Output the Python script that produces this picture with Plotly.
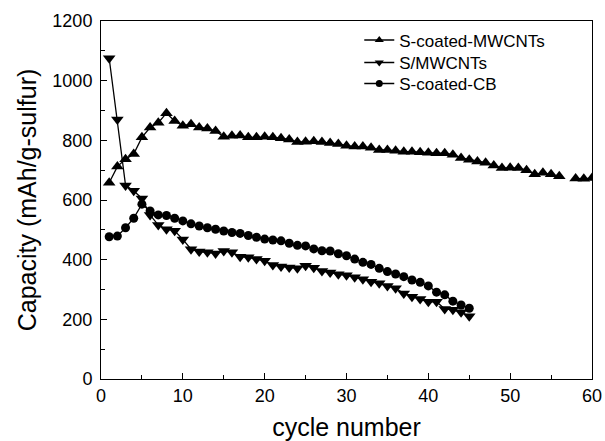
import plotly.graph_objects as go

cycles_a = list(range(1, 61))
s_coated_mwcnts = [658, 712, 737, 754, 810, 843, 859, 891, 865, 849,
                   854, 843, 840, 831, 812, 815, 816, 810, 810, 812,
                   810, 807, 803, 794, 795, 797, 794, 791, 788, 782,
                   779, 779, 775, 768, 768, 765, 762, 762, 760, 758,
                   757, 757, 752, 741, 735, 729, 725, 716, 707, 708,
                   707, 700, 686, 691, 686, 680, None, 672, 671, 674]

cycles_b = list(range(1, 46))
s_mwcnts = [1075, 870, 649, 631, 605, 550, 516, 502, 497, 468,
            435, 427, 425, 421, 429, 425, 410, 408, 402, 396,
            382, 377, 374, 371, 380, 373, 362, 357, 351, 348,
            341, 334, 326, 321, 312, 304, 287, 276, 268, 259,
            259, 235, 232, 224, 210]

s_coated_cb = [477, 479, 507, 539, 586, 563, 550, 548, 539, 530,
               520, 513, 507, 502, 496, 491, 488, 481, 475, 469,
               466, 463, 455, 448, 446, 436, 430, 429, 420, 413,
               402, 391, 384, 371, 360, 352, 343, 332, 324, 312,
               291, 282, 261, 248, 237]

series_names = ["S-coated-MWCNTs", "S/MWCNTs", "S-coated-CB"]
series_x = [cycles_a, cycles_b, cycles_b]
series_y = [s_coated_mwcnts, s_mwcnts, s_coated_cb]
symbols = ["triangle-up", "triangle-down", "circle"]
plot_sizes = [11, 11, 9]
legend_sizes = [8, 8, 7]
legend_ids = ["legend", "legend2", "legend3"]

font_family = "Liberation Sans, Arial, sans-serif"

fig = go.Figure()
for name, xs, ys, sym, ps in zip(series_names, series_x, series_y, symbols, plot_sizes):
    fig.add_trace(go.Scatter(x=xs, y=ys, name=name, mode="lines+markers",
                             connectgaps=False, showlegend=False,
                             line=dict(color="black", width=1.3),
                             marker=dict(symbol=sym, size=ps, color="black")))
# legend entries with smaller symbols, as in the reference
for name, sym, ls, lid in zip(series_names, symbols, legend_sizes, legend_ids):
    fig.add_trace(go.Scatter(x=[None], y=[None], name=name, mode="lines+markers",
                             legend=lid, showlegend=True,
                             line=dict(color="black", width=1.5),
                             marker=dict(symbol=sym, size=ls, color="black")))

axis_common = dict(showline=True, linecolor="black", linewidth=1, mirror=True,
                   ticks="inside", ticklen=6, tickcolor="black", tickwidth=1,
                   showgrid=False, zeroline=False, automargin=False,
                   tickfont=dict(family=font_family, size=18, color="black"))

fig.update_xaxes(range=[0, 60], dtick=10, tick0=0,
                 minor=dict(ticks="inside", dtick=5, ticklen=4, tickcolor="black"),
                 title=dict(text="cycle number", font=dict(family=font_family, size=25, color="black"),
                            standoff=14),
                 **axis_common)
fig.update_yaxes(range=[0, 1200], dtick=200, tick0=0,
                 minor=dict(ticks="inside", dtick=100, ticklen=4, tickcolor="black"),
                 title=dict(text="Capacity (mAh/g-sulfur)", font=dict(family=font_family, size=25, color="black"),
                            standoff=8),
                 ticklabelstandoff=4,
                 **axis_common)

def leg(yc):
    return dict(x=0.526, y=yc, xanchor="left", yanchor="middle",
                font=dict(family=font_family, size=17, color="black"),
                bgcolor="rgba(0,0,0,0)", borderwidth=0, itemsizing="trace")

fig.update_layout(
    width=605, height=441,
    margin=dict(l=101, r=13, t=21, b=62),
    paper_bgcolor="white", plot_bgcolor="white",
    font=dict(family=font_family, color="black"),
    showlegend=True,
    legend=leg(0.946), legend2=leg(0.8827), legend3=leg(0.824),
)

fig.write_html("out.html", config={"displayModeBar": False},
               post_script="document.body.style.margin='0';")
